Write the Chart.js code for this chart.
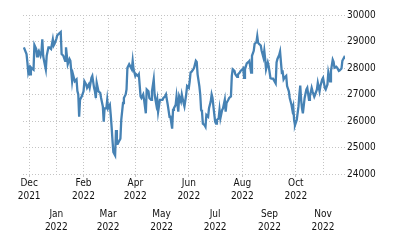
<!DOCTYPE html>
<html lang="en">
<head>
    <meta charset="UTF-8">
    <title>Index Chart</title>
    <script src="https://cdn.jsdelivr.net/npm/chart.js"></script>
    <style>
        body {
            margin: 0;
            background-color: #ffffff;
        }

        #wrap {
            width: 400px;
            height: 250px;
        }
    </style>
</head>
<body>

<div id="wrap">
    <canvas id="indexChart" width="400" height="250"></canvas>
</div>

<script>
    // days since 1 Dec 2021
    var days = [
        -6, -3, -2, -1, 0, 1, 2, 3, 5, 6, 8, 9, 10, 11, 13, 14, 15, 16, 17, 19,
        20, 22, 23, 25, 27, 28, 29, 31, 32, 35, 36, 37, 39, 41, 42, 44, 46, 47, 49, 50,
        52, 54, 55, 56, 57, 58, 60, 62, 63, 65, 66, 68, 69, 71, 72, 74, 75, 76, 77, 79,
        81, 82, 84, 85, 86, 88, 89, 90, 92, 93, 94, 95, 96, 98, 99, 100, 101, 103, 104, 105,
        107, 108, 110, 111, 112, 114, 115, 117, 118, 119, 121, 122, 124, 125, 127, 128, 130, 131, 133, 134,
        136, 137, 139, 140, 142, 143, 145, 146, 147, 149, 150, 152, 153, 155, 156, 158, 160, 161, 163, 164,
        165, 167, 168, 170, 171, 173, 174, 176, 177, 179, 180, 182, 183, 184, 185, 187, 188, 190, 191, 192,
        194, 195, 196, 197, 198, 200, 201, 202, 204, 205, 207, 208, 209, 210, 212, 213, 214, 216, 217, 218,
        220, 221, 223, 224, 225, 227, 228, 230, 231, 232, 234, 235, 237, 238, 240, 241, 243, 244, 245, 246,
        248, 250, 251, 253, 254, 256, 257, 259, 260, 261, 262, 264, 265, 267, 268, 269, 270, 272, 273, 275,
        276, 278, 279, 281, 282, 283, 285, 286, 288, 289, 290, 291, 293, 294, 296, 297, 299, 300, 301, 302,
        303, 305, 307, 308, 309, 310, 311, 312, 314, 316, 317, 319, 320, 322, 323, 325, 326, 328, 329, 331,
        332, 334, 335, 337, 338, 340, 341, 343, 344, 346, 347, 348, 350, 351, 353, 354, 356, 357, 359, 360
    ];

    var values = [
        28780, 28530, 28210, 27830, 27950, 27760, 28020, 27980, 27930, 28870, 28720, 28440, 28590, 28650, 28460, 28590, 29080, 28460, 28270, 27950,
        28460, 28780, 28780, 28720, 29080, 28850, 28910, 29100, 29230, 29330, 29360, 28530, 28460, 28270, 28780, 28140, 28340, 28270, 27500, 27760,
        27500, 27570, 27130, 27000, 26160, 26800, 26930, 27120, 27500, 27380, 27250, 27380, 27250, 27630, 27700, 27250, 27120, 26870, 27440, 27120,
        27060, 26870, 26550, 25970, 26480, 26480, 26800, 26480, 26610, 26230, 25780, 25270, 24820, 24700, 25660, 25140, 25140, 25270, 25330, 26040,
        26680, 26870, 27000, 27190, 28010, 28140, 28080, 27950, 28270, 27950, 27700, 27760, 27700, 27760, 26930, 26870, 27000, 26800, 26290, 27190,
        27120, 26870, 26800, 27120, 27570, 27000, 26610, 26800, 26350, 26800, 26800, 26800, 26870, 26930, 27000, 26610, 26160, 26160, 25710, 26420,
        26480, 26610, 26930, 26350, 26930, 26740, 27000, 26680, 26550, 27000, 27320, 27250, 27500, 27830, 27850, 27950, 28010, 28270, 28230, 27760,
        27320, 27000, 26420, 26350, 25900, 25840, 25780, 26230, 26160, 26480, 26740, 27000, 26870, 26550, 25970, 25900, 26040, 26100, 26420, 26100,
        26420, 26480, 26800, 26350, 26680, 26800, 26870, 26930, 27700, 27950, 27890, 27760, 27670, 27760, 27830, 27890, 27950, 27990, 27630, 27950,
        28170, 28230, 28270, 27830, 28460, 28650, 28910, 28970, 29200, 28950, 28910, 28850, 28650, 28400, 28650, 28340, 27950, 28210, 28080, 27630,
        27600, 27600, 27600, 27420, 28210, 28340, 28490, 28620, 27830, 27850, 27570, 27630, 27700, 27320, 27120, 26870, 26610, 26420, 26550, 26040,
        25840, 26040, 26550, 27000, 27340, 26800, 26480, 26290, 26870, 27190, 27250, 26800, 26930, 27250, 27120, 26920, 27000, 27190, 27440, 27120,
        27320, 27570, 27630, 27250, 27190, 27380, 27830, 27500, 27890, 28310, 28230, 28010, 28050, 28010, 27890, 27910, 27980, 28270, 28400, 28340
    ];

    // month starts (days since 1 Dec 2021) and their labels
    var tickDays = [0, 31, 62, 90, 121, 151, 182, 212, 243, 274, 304, 335];
    var tickMonths = ['Dec', 'Jan', 'Feb', 'Mar', 'Apr', 'May', 'Jun', 'Jul', 'Aug', 'Sep', 'Oct', 'Nov'];
    var tickYears = ['2021', '2022', '2022', '2022', '2022', '2022', '2022', '2022', '2022', '2022', '2022', '2022'];

    var yMin = 24000;
    var yMax = 30000;
    var yStep = 1000;

    var points = days.map(function (d, i) {
        return {x: d, y: values[i]};
    });

    var gridColor = '#c4c4c4';
    var tickFont = {family: '"DejaVu Sans Condensed", "DejaVu Sans", sans-serif', size: 10, lineHeight: 1.3};

    // first row gets even months, second row the odd ones
    function monthTicks(row) {
        return function (scale) {
            scale.ticks = tickDays.filter(function (d, i) {
                return i % 2 === row;
            }).map(function (d) {
                return {value: d};
            });
        };
    }

    function monthLabel(value) {
        var i = tickDays.indexOf(value);
        return i < 0 ? '' : [tickMonths[i], tickYears[i]];
    }

    var ctx = document.getElementById('indexChart').getContext('2d');
    var chart = new Chart(ctx, {
        type: 'line',
        data: {
            datasets: [{
                data: points,
                borderColor: '#4682b4',
                borderWidth: 2.3,
                pointRadius: 0,
                tension: 0,
                fill: false
            }]
        },
        options: {
            responsive: false,
            animation: false,
            layout: {
                padding: {left: 23, top: 15, right: 0, bottom: 0}
            },
            plugins: {
                legend: {display: false},
                tooltip: {enabled: false}
            },
            scales: {
                x: {
                    type: 'linear',
                    position: 'bottom',
                    weight: 0,
                    min: -7,
                    max: 360,
                    afterBuildTicks: monthTicks(0),
                    afterFit: function (scale) {
                        scale.height = 33.5;
                    },
                    border: {display: false, dash: [1, 2]},
                    grid: {
                        color: gridColor,
                        lineWidth: 1,
                        tickLength: 3,
                        drawTicks: true,
                        tickColor: gridColor
                    },
                    ticks: {
                        autoSkip: false,
                        maxRotation: 0,
                        padding: 0,
                        color: '#111',
                        font: tickFont,
                        callback: monthLabel
                    }
                },
                x2: {
                    type: 'linear',
                    axis: 'x',
                    position: 'bottom',
                    weight: 1,
                    min: -7,
                    max: 360,
                    afterBuildTicks: monthTicks(1),
                    afterFit: function (scale) {
                        scale.height = 42.5;
                    },
                    border: {display: false, dash: [1, 2]},
                    grid: {
                        color: gridColor,
                        lineWidth: 1,
                        drawTicks: false
                    },
                    ticks: {
                        autoSkip: false,
                        maxRotation: 0,
                        padding: 0,
                        color: '#111',
                        font: tickFont,
                        callback: monthLabel
                    }
                },
                y: {
                    position: 'right',
                    min: yMin,
                    max: yMax,
                    afterFit: function (scale) {
                        scale.width = 55;
                    },
                    border: {display: false, dash: [1, 2]},
                    grid: {
                        color: gridColor,
                        lineWidth: 1,
                        drawTicks: false
                    },
                    ticks: {
                        stepSize: yStep,
                        padding: 2,
                        color: '#111',
                        font: tickFont,
                        callback: function (v) {
                            return String(v);
                        }
                    }
                }
            }
        }
    });
</script>

</body>
</html>
